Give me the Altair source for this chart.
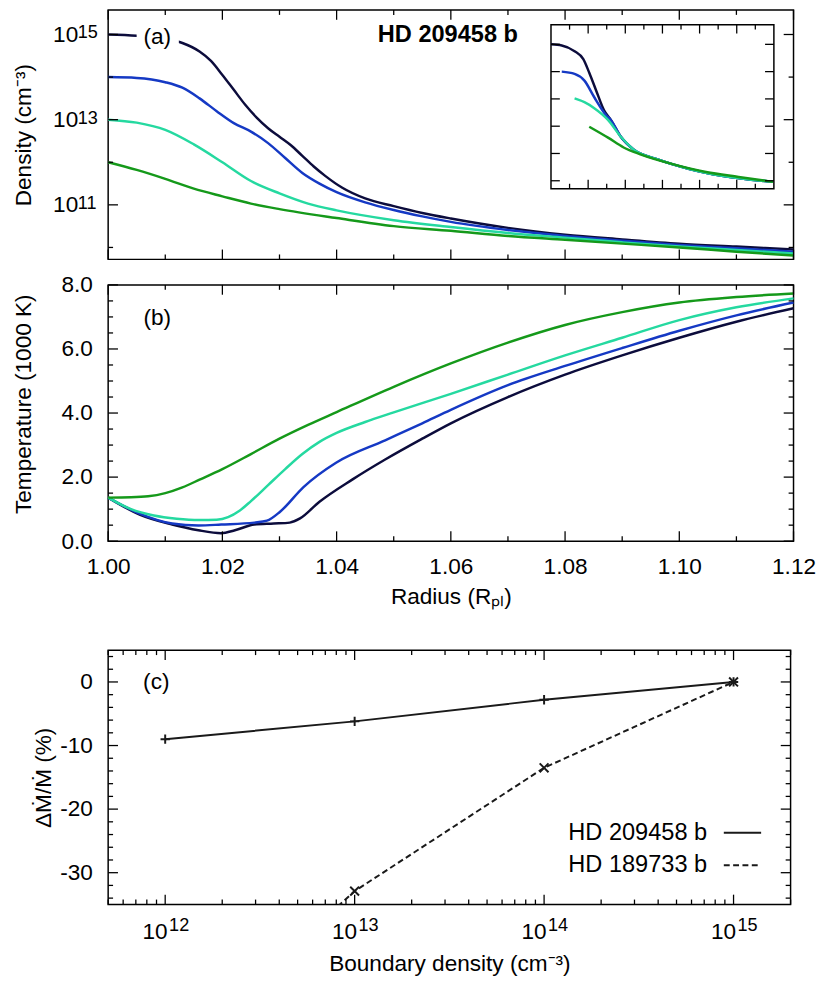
import altair as alt
import pandas as pd

FONT = "Liberation Sans"
BLACK = "#000000"
COLORS = ["#0c0c3c", "#1539c4", "#25d9a0", "#15991a"]   # n0 = 1e15, 1e14, 1e13, 1e12

# ---------------- panel (a): density profiles  (radius [R_pl], log10 n [cm^-3])
A_DARK_R = [1.000, 1.005, 1.010, 1.013, 1.016, 1.018, 1.020, 1.022, 1.024, 1.026, 1.028, 1.030,
            1.032, 1.034, 1.036, 1.038, 1.041, 1.045, 1.05, 1.055, 1.06, 1.07, 1.08, 1.09, 1.10, 1.11, 1.12]
A_DARK_N = [15.0, 14.97, 14.9, 14.8, 14.6, 14.38, 14.05, 13.7, 13.35, 13.05, 12.8, 12.6,
            12.4, 12.15, 11.9, 11.68, 11.4, 11.15, 10.97, 10.81, 10.68, 10.46, 10.3, 10.19, 10.09, 10.02, 9.95]
A_BLUE_R = [1.000, 1.005, 1.010, 1.013, 1.016, 1.019, 1.022, 1.025, 1.028, 1.031, 1.034, 1.037,
            1.040, 1.045, 1.05, 1.055, 1.06, 1.07, 1.08, 1.09, 1.10, 1.11, 1.12]
A_BLUE_N = [14.0, 13.98, 13.88, 13.75, 13.5, 13.2, 12.92, 12.72, 12.45, 12.1, 11.75, 11.5,
            11.3, 11.06, 10.88, 10.73, 10.6, 10.41, 10.27, 10.16, 10.06, 9.98, 9.9]
A_TEAL_R = [1.000, 1.005, 1.010, 1.015, 1.020, 1.025, 1.030, 1.035, 1.040, 1.05, 1.06, 1.07,
            1.08, 1.09, 1.10, 1.11, 1.12]
A_TEAL_N = [13.0, 12.93, 12.76, 12.42, 12.0, 11.56, 11.27, 11.03, 10.87, 10.64, 10.48, 10.34,
            10.23, 10.12, 10.02, 9.94, 9.86]
A_GREEN_R = [1.000, 1.005, 1.010, 1.015, 1.020, 1.025, 1.030, 1.040, 1.05, 1.06, 1.07, 1.08,
             1.09, 1.10, 1.11, 1.12]
A_GREEN_N = [12.0, 11.82, 11.61, 11.38, 11.2, 11.03, 10.9, 10.69, 10.5, 10.39, 10.27, 10.18,
             10.09, 10.0, 9.9, 9.81]

# inset of panel (a): (inset abscissa in tick units, log10 n)
I_DARK_X = [0.0, 0.58, 1.27, 1.74, 2.06, 2.43, 2.85, 3.22, 3.75, 4.44, 5.71, 7.45, 9.20, 11.95]
I_DARK_N = [15.0, 14.96, 14.75, 14.46, 13.96, 13.31, 12.59, 12.23, 11.62, 11.15, 10.79, 10.43, 10.18, 9.96]
I_BLUE_X = [0.58, 1.27, 1.80, 2.33, 2.96, 3.22, 3.75, 4.44, 5.71, 7.45, 9.20, 11.95]
I_BLUE_N = [14.0, 13.92, 13.67, 13.06, 12.41, 12.23, 11.62, 11.15, 10.79, 10.43, 10.18, 9.96]
I_TEAL_X = [1.27, 1.80, 2.33, 3.07, 3.75, 4.44, 5.71, 7.45, 9.20, 11.95]
I_TEAL_N = [13.02, 12.88, 12.66, 12.23, 11.62, 11.15, 10.79, 10.43, 10.18, 9.96]
I_GREEN_X = [2.06, 3.07, 3.91, 4.81, 6.55, 8.35, 10.1, 11.95]
I_GREEN_N = [11.98, 11.58, 11.22, 10.97, 10.61, 10.32, 10.14, 9.96]

# ---------------- panel (b): temperature (1000 K)
B_DARK_R = [1.000, 1.0055, 1.0112, 1.0158, 1.0198, 1.0222, 1.0256, 1.029, 1.0318, 1.0336, 1.037,
            1.0428, 1.0485, 1.055, 1.06, 1.07, 1.08, 1.09, 1.10, 1.11, 1.12]
B_DARK_T = [1.36, 0.83, 0.52, 0.34, 0.25, 0.34, 0.52, 0.55, 0.58, 0.71, 1.23,
            1.93, 2.55, 3.2, 3.68, 4.5, 5.2, 5.8, 6.35, 6.85, 7.27]
B_BLUE_R = [1.000, 1.0055, 1.0112, 1.0158, 1.0198, 1.0256, 1.0278, 1.0301, 1.0342, 1.0399, 1.0485,
            1.055, 1.06, 1.07, 1.08, 1.09, 1.10, 1.11, 1.12]
B_BLUE_T = [1.36, 0.86, 0.55, 0.49, 0.52, 0.58, 0.64, 0.92, 1.69, 2.45, 3.15,
            3.68, 4.1, 4.87, 5.47, 6.03, 6.57, 7.05, 7.45]
B_TEAL_R = [1.000, 1.004, 1.008, 1.012, 1.016, 1.019, 1.021, 1.023, 1.025, 1.028, 1.031, 1.034,
            1.037, 1.040, 1.045, 1.05, 1.06, 1.07, 1.08, 1.09, 1.10, 1.11, 1.12]
B_TEAL_T = [1.36, 1.0, 0.8, 0.7, 0.66, 0.67, 0.75, 0.95, 1.25, 1.75, 2.25, 2.72,
            3.1, 3.38, 3.72, 4.02, 4.6, 5.2, 5.8, 6.35, 6.9, 7.3, 7.58]
B_GREEN_R = [1.000, 1.004, 1.007, 1.010, 1.013, 1.016, 1.020, 1.025, 1.030, 1.035, 1.040,
             1.05, 1.06, 1.07, 1.08, 1.09, 1.10, 1.11, 1.12]
B_GREEN_T = [1.36, 1.37, 1.40, 1.50, 1.68, 1.92, 2.25, 2.72, 3.2, 3.63, 4.03,
             4.82, 5.55, 6.2, 6.75, 7.15, 7.45, 7.62, 7.73]

# ---------------- panel (c): mass-loss change vs boundary density
C_DENS = [1e12, 1e13, 1e14, 1e15]
C_HD209 = [-9.0, -6.2, -2.8, 0.0]
C_HD189 = [-60.0, -32.9, -13.5, 0.0]
C_NAMES = ["HD 209458 b", "HD 189733 b"]

# ---------------- helpers
W_AB, H_A, H_B = 698, 254, 261
W_C, H_C = 695, 259
MAJ, MIN = 10, 5
TW = 1.3


def curve_df(xs, ys, log=False):
    return pd.DataFrame({"x": xs, "y": [10 ** v for v in ys] if log else ys, "i": range(len(xs))})


def xticks(vals, scale, axis, ybot, ytop, length):
    df = pd.DataFrame({"x": vals})
    base = alt.Chart(df).mark_rule(color=BLACK, strokeWidth=TW)
    enc = alt.X("x:Q", scale=scale, axis=axis)
    return [base.encode(x=enc, y=alt.value(ybot), y2=alt.value(ybot - length)),
            base.encode(x=enc, y=alt.value(ytop), y2=alt.value(ytop + length))]


def yticks(vals, scale, axis, xl, xr, length):
    df = pd.DataFrame({"y": vals})
    base = alt.Chart(df).mark_rule(color=BLACK, strokeWidth=TW)
    enc = alt.Y("y:Q", scale=scale, axis=axis)
    return [base.encode(y=enc, x=alt.value(xl), x2=alt.value(xl + length)),
            base.encode(y=enc, x=alt.value(xr), x2=alt.value(xr - length))]


def label(text, x, y, size=23, weight="normal", align="center"):
    return alt.Chart(pd.DataFrame({"t": [text]})).mark_text(
        fontSize=size, fontWeight=weight, align=align, baseline="middle", color=BLACK
    ).encode(x=alt.value(x), y=alt.value(y), text="t:N")


# ---------------- panel (a)
xr = alt.Scale(domain=[1.0, 1.12], nice=False, zero=False)
ya = alt.Scale(type="log", domain=[10 ** 9.72, 10 ** 15.576], nice=False)
YAX_A = alt.Axis(values=[1e11, 1e13, 1e15], labelExpr="'10'", labelPadding=31,
                 title="Density (cm\u207b\u00b3)", titleAngle=270, titleBaseline="alphabetic",
                 titleX=-79, titleY=H_A / 2)

a_lines = []
for k, (xs, ys) in enumerate([(A_DARK_R, A_DARK_N), (A_BLUE_R, A_BLUE_N),
                               (A_TEAL_R, A_TEAL_N), (A_GREEN_R, A_GREEN_N)]):
    a_lines.append(alt.Chart(curve_df(xs, ys, log=True)).mark_line(
        color=COLORS[k], strokeWidth=2.5, interpolate="monotone").encode(
        x=alt.X("x:Q", scale=xr, axis=None),
        y=alt.Y("y:Q", scale=ya, axis=YAX_A),
        order="i:Q"))

a_exp = alt.Chart(pd.DataFrame({"e": ["15", "13", "11"], "y": [1e15, 1e13, 1e11]})).mark_text(
    fontSize=18.4, align="left", baseline="alphabetic", dy=4, color=BLACK).encode(
    x=alt.value(-31), y=alt.Y("y:Q", scale=ya, axis=YAX_A), text="e:N")
a_mask = alt.Chart(pd.DataFrame({"t": [0]})).mark_rect(color="white").encode(
    x=alt.value(29), x2=alt.value(72), y=alt.value(14), y2=alt.value(40))

x_major = [round(1.0 + 0.02 * i, 2) for i in range(7)]
x_minor = [round(1.01 + 0.02 * i, 2) for i in range(6)]
a_ticks = (xticks(x_major, xr, None, H_A, 0, MAJ) + xticks(x_minor, xr, None, H_A, 0, MIN)
           + yticks([1e11, 1e13, 1e15], ya, YAX_A, 0, W_AB, MAJ)
           + yticks([1e10, 1e12, 1e14], ya, YAX_A, 0, W_AB, MIN))

main_a = alt.layer(*a_lines, a_mask, label("(a)", 50, 28),
                   label("HD 209458 b", 346, 26, size=24, weight="bold"), a_exp, *a_ticks)

# inset
IX0, IX1, IY0, IY1 = 451, 678, 15, 182
xi = alt.Scale(domain=[0, 12], range=[IX0, IX1], nice=False, zero=False)
yi = alt.Scale(type="log", domain=[10 ** 9.71, 10 ** 15.72], range=[IY1, IY0], nice=False)
inset_box = alt.Chart(pd.DataFrame({"x": [0], "x1": [12], "y": [10 ** 9.71], "y1": [10 ** 15.72]})).mark_rect(
    fill="white", stroke=BLACK, strokeWidth=1.5).encode(
    x=alt.X("x:Q", scale=xi, axis=None), x2="x1:Q",
    y=alt.Y("y:Q", scale=yi, axis=None), y2="y1:Q")
inset_lines = []
for k, (xs, ys) in enumerate([(I_DARK_X, I_DARK_N), (I_BLUE_X, I_BLUE_N),
                               (I_TEAL_X, I_TEAL_N), (I_GREEN_X, I_GREEN_N)]):
    inset_lines.append(alt.Chart(curve_df(xs, ys, log=True)).mark_line(
        color=COLORS[k], strokeWidth=2.5, interpolate="monotone").encode(
        x=alt.X("x:Q", scale=xi, axis=None), y=alt.Y("y:Q", scale=yi, axis=None), order="i:Q"))
inset_ticks = (xticks([2, 4, 6, 8, 10], xi, None, IY1, IY0, 9)
               + xticks([1, 3, 5, 7, 9, 11], xi, None, IY1, IY0, 5)
               + yticks([1e10, 1e11, 1e12, 1e13, 1e14, 1e15], yi, None, IX0, IX1, 9))
inset = alt.layer(inset_box, *inset_lines, *inset_ticks)

panel_a = alt.layer(main_a, inset).resolve_scale(x="independent", y="independent").properties(
    width=W_AB, height=H_A)

# ---------------- panel (b)
yb = alt.Scale(domain=[0, 8], nice=False, zero=False)
XAX_B = alt.Axis(values=x_major, format=".2f", labelPadding=15,
                 title="Radius (R\u209a\u2097)", titleBaseline="alphabetic", titleY=63)
YAX_B = alt.Axis(values=[0, 2, 4, 6, 8], format=".1f", labelPadding=16,
                 title="Temperature (1000 K)", titleAngle=270, titleBaseline="alphabetic",
                 titleX=-79, titleY=121)
b_lines = []
for k, (xs, ys) in enumerate([(B_DARK_R, B_DARK_T), (B_BLUE_R, B_BLUE_T),
                               (B_TEAL_R, B_TEAL_T), (B_GREEN_R, B_GREEN_T)]):
    b_lines.append(alt.Chart(curve_df(xs, ys)).mark_line(
        color=COLORS[k], strokeWidth=2.5, interpolate="monotone").encode(
        x=alt.X("x:Q", scale=xr, axis=XAX_B),
        y=alt.Y("y:Q", scale=yb, axis=YAX_B),
        order="i:Q"))
b_ticks = (xticks(x_major, xr, XAX_B, H_B, 0, MAJ) + xticks(x_minor, xr, XAX_B, H_B, 0, MIN)
           + yticks([0, 2, 4, 6, 8], yb, YAX_B, 0, W_AB, MAJ)
           + yticks([v / 2 for v in range(1, 16) if v % 4], yb, YAX_B, 0, W_AB, MIN))
panel_b = alt.layer(*b_lines, label("(b)", 50, 34), *b_ticks).properties(width=W_AB, height=H_B)

# ---------------- panel (c)
xc = alt.Scale(type="log", domain=[5e11, 2e15], nice=False)
yc = alt.Scale(domain=[-35, 5], nice=False, zero=False)
XAX_C = alt.Axis(values=C_DENS, labelExpr="'10'", labelAlign="right", labelOffset=2, labelPadding=17,
                 title="Boundary density (cm\u207b\u00b3)", titleBaseline="alphabetic", titleY=67)
YAX_C = alt.Axis(values=[0, -10, -20, -30], labelPadding=16,
                 labelExpr="datum.value == 0 ? '0' : '-' + format(abs(datum.value), 'd')",
                 title="\u0394\u1e40/\u1e40 (%)", titleAngle=270, titleBaseline="alphabetic",
                 titleX=-59, titleY=H_C / 2)
PLUS = "M-1,0L1,0M0,-1L0,1"
CROSS = "M-1,-1L1,1M-1,1L1,-1"
LINE_C = "#1a1a1a"

df209 = pd.DataFrame({"x": C_DENS, "y": C_HD209})
df189 = pd.DataFrame({"x": C_DENS, "y": C_HD189})
ENC_X = alt.X("x:Q", scale=xc, axis=XAX_C)
ENC_Y = alt.Y("y:Q", scale=yc, axis=YAX_C)
c_solid = alt.Chart(df209).mark_line(color=LINE_C, strokeWidth=2).encode(x=ENC_X, y=ENC_Y)
c_solid_pts = alt.Chart(df209).mark_point(shape=PLUS, size=90, filled=False, color=LINE_C,
                                          strokeWidth=2, opacity=1).encode(x=ENC_X, y=ENC_Y)
c_dash = alt.Chart(df189).mark_line(color=LINE_C, strokeWidth=2, strokeDash=[6, 3.5], clip=True).encode(
    x=ENC_X, y=ENC_Y)
c_dash_pts = alt.Chart(df189).mark_point(shape=CROSS, size=81, filled=False, color=LINE_C,
                                         strokeWidth=2, opacity=1, clip=True).encode(x=ENC_X, y=ENC_Y)
c_exp = alt.Chart(pd.DataFrame({"e": ["12", "13", "14", "15"], "x": C_DENS})).mark_text(
    fontSize=18.4, align="left", baseline="alphabetic", dx=4, color=BLACK).encode(
    x=ENC_X, y=alt.value(H_C + 27), text="e:N")
leg_solid = alt.Chart(pd.DataFrame({"t": [0]})).mark_rule(color=LINE_C, strokeWidth=2).encode(
    x=alt.value(627), x2=alt.value(665), y=alt.value(186))
leg_dash = alt.Chart(pd.DataFrame({"t": [0]})).mark_rule(color=LINE_C, strokeWidth=2, strokeDash=[6, 3.5]).encode(
    x=alt.value(627), x2=alt.value(665), y=alt.value(219))
# invisible (white) spacer that sets the gap between panels (b) and (c)
spacer = alt.Chart(pd.DataFrame({"t": [0]})).mark_rule(color="white", strokeWidth=1).encode(
    x=alt.value(0), x2=alt.value(1), y=alt.value(-28), y2=alt.value(-27))

c_minor_x = [m * 10 ** e for e in range(11, 16) for m in range(2, 10) if 5e11 <= m * 10 ** e <= 2e15]
c_ticks = (xticks(C_DENS, xc, XAX_C, H_C, 0, MAJ) + xticks(c_minor_x, xc, XAX_C, H_C, 0, MIN)
           + yticks([0, -10, -20, -30], yc, YAX_C, 0, W_C, MAJ)
           + yticks([v for v in range(-34, 5, 2) if v % 10], yc, YAX_C, 0, W_C, MIN))

panel_c = alt.layer(spacer, c_solid, c_dash, c_solid_pts, c_dash_pts, c_exp,
                    label("(c)", 49, 33),
                    label(C_NAMES[0], 610, 186, size=24, align="right"),
                    label(C_NAMES[1], 610, 219, size=24, align="right"),
                    leg_solid, leg_dash, *c_ticks).properties(width=W_C, height=H_C)

chart = alt.vconcat(panel_a, panel_b, panel_c, spacing=12).properties(
    padding={"left": 4, "top": -9, "right": 5, "bottom": 0}
).configure(font=FONT).configure_view(stroke=BLACK, strokeWidth=1.5).configure_axis(
    labelFontSize=23, titleFontSize=23, labelColor=BLACK, titleColor=BLACK, titleFontWeight="normal",
    ticks=False, tickSize=0, domain=False, grid=False, labelFlush=False, labelOverlap=False,
    labelFont=FONT, titleFont=FONT)

chart.save("out.html", embed_options={"renderer": "svg", "actions": False})
